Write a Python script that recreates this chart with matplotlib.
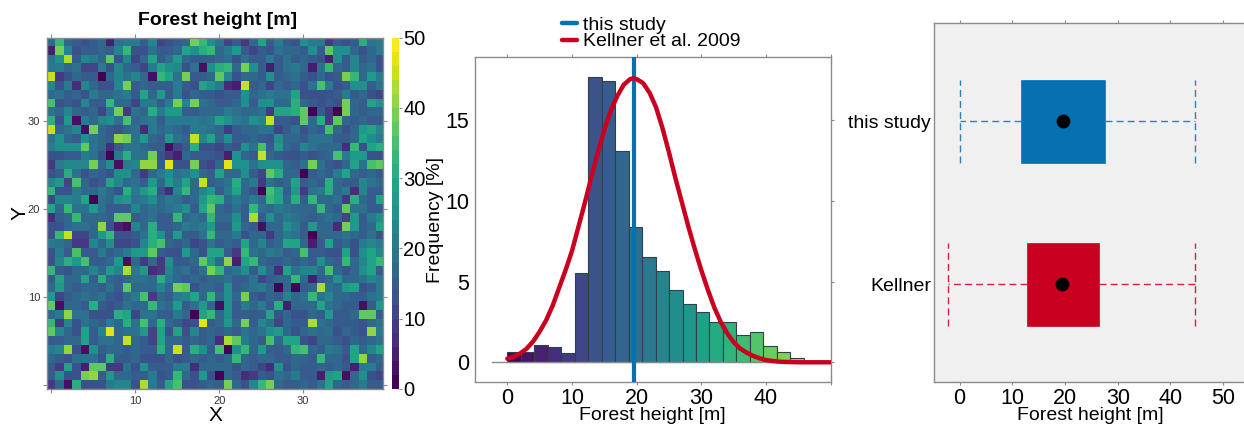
"""Forest height map, histogram and box comparison."""

import matplotlib
matplotlib.use("Agg")
import matplotlib.pyplot as plt
import numpy as np
from matplotlib.lines import Line2D

plt.rcParams["font.family"] = ["Liberation Sans", "DejaVu Sans"]

W, H = 1244, 425
BLUE = "#0571b0"
RED = "#ca0020"
GREY = "#8a8a8a"

# forest height per cell, top row first
height_map = [
    [17,33,17,14,13,14,17,5,19,21, 20,15,23,11,13,14,16,38,33,24, 18,11,14,8,17,28,15,20,14,13, 24,21,20,8,14,13,14,30,19,21],
    [5,38,22,13,14,14,17,14,22,32, 12,13,18,15,14,16,28,24,30,32, 17,20,26,15,10,14,13,18,17,16, 15,24,14,36,25,25,16,13,17,21],
    [18,24,42,14,23,20,17,36,13,22, 11,16,28,15,19,26,17,15,14,14, 17,18,13,19,15,14,20,14,18,15, 16,15,13,4,25,15,22,14,16,12],
    [20,20,16,19,11,11,20,12,22,16, 14,10,20,29,24,22,13,18,2,24, 30,32,16,38,25,14,5,14,18,20, 17,5,18,32,16,15,22,16,18,12],
    [44,9,12,16,14,15,1,16,22,18, 22,17,3,32,28,18,38,14,15,16, 36,22,12,17,16,14,25,14,16,18, 15,13,16,12,14,38,32,16,27,21],
    [22,13,20,6,22,16,12,13,22,38, 14,16,15,15,14,20,15,13,28,24, 20,6,4,44,14,16,11,16,15,16, 13,18,34,20,13,15,24,24,14,19],
    [16,18,14,16,13,20,17,17,18,20, 15,28,16,27,14,20,13,16,15,14, 13,14,14,25,17,18,20,19,18,28, 12,12,13,12,14,20,15,16,13,11],
    [34,13,14,13,22,15,14,33,17,16, 11,20,20,15,20,38,22,38,18,16, 15,14,16,25,15,24,24,17,17,30, 16,14,13,15,13,38,16,15,28,25],
    [19,16,22,17,15,17,11,20,38,9, 18,16,31,20,27,27,14,15,17,16, 17,20,19,17,16,18,8,28,28,30, 36,0,14,9,0,38,16,15,17,17],
    [30,13,27,3,20,16,23,24,18,35, 17,18,20,15,21,21,20,20,19,20, 28,25,20,19,25,22,44,14,15,13, 36,16,30,8,36,17,14,16,15,14],
    [45,17,18,22,3,38,16,15,13,16, 19,7,20,16,18,17,15,21,20,18, 16,8,14,17,16,19,18,11,15,18, 13,16,14,34,16,13,16,27,28,22],
    [19,24,16,14,25,19,16,14,40,38, 19,26,17,14,27,19,16,44,22,28, 16,25,15,14,17,15,12,24,16,17, 15,19,18,18,14,15,16,28,25,20],
    [20,24,24,24,36,19,17,6,15,19, 19,16,15,14,2,11,14,30,13,13, 11,14,13,24,18,35,15,27,17,14, 22,18,17,16,17,7,33,13,28,30],
    [13,12,14,15,20,19,13,1,21,30, 18,19,38,12,8,5,16,14,15,14, 13,4,25,16,14,44,16,14,13,12, 15,13,14,16,35,20,27,27,12,13],
    [8,20,22,22,22,38,16,25,3,20, 22,40,40,14,46,12,13,38,13,11, 16,46,25,25,19,25,25,25,16,14, 19,38,18,14,13,17,28,18,34,37],
    [13,14,30,18,12,16,14,12,25,24, 17,8,16,20,25,18,20,24,16,15, 28,17,16,25,15,11,36,30,17,16, 1,15,17,14,20,28,16,14,16,14],
    [22,27,11,35,16,13,14,28,22,17, 18,14,27,17,27,20,28,16,44,14, 16,18,30,16,20,8,18,15,16,28, 15,16,14,30,16,15,14,22,18,16],
    [32,12,13,20,17,16,20,17,12,30, 20,27,30,13,6,22,33,16,22,27, 15,20,28,16,13,1,34,28,15,27, 8,18,20,30,16,20,6,22,15,14],
    [11,22,22,20,28,0,18,16,25,27, 19,20,24,16,20,18,15,17,27,32, 30,17,20,17,20,16,33,28,16,30, 15,32,17,16,19,8,30,17,15,28],
    [28,16,33,19,19,26,19,14,15,14, 22,17,19,16,18,20,24,15,28,36, 16,15,19,14,32,19,16,20,19,16, 17,17,33,16,15,36,18,18,14,15],
    [6,14,16,33,17,16,17,14,37,37, 14,16,18,15,14,33,16,18,16,33, 17,16,25,14,42,14,25,16,20,19, 16,14,17,18,16,11,27,14,20,24],
    [12,12,16,19,18,17,40,13,4,2, 22,16,30,14,15,16,20,18,20,26, 14,15,27,16,15,3,17,17,24,20, 15,26,17,16,6,38,27,14,16,28],
    [13,32,45,11,11,16,27,33,13,13, 14,18,30,25,14,27,15,14,18,33, 17,16,20,13,16,17,9,17,20,18, 14,0,17,16,17,18,16,15,19,12],
    [20,18,17,9,9,22,16,25,11,11, 13,22,30,35,16,15,17,11,13,19, 15,16,14,28,17,22,15,16,28,28, 16,4,15,28,14,16,13,20,22,20],
    [13,20,14,34,15,14,20,14,17,20, 27,27,37,14,13,13,26,16,13,28, 28,14,8,33,19,16,20,18,15,16, 34,14,15,12,13,28,13,24,28,22],
    [13,22,30,27,34,14,15,16,27,2, 17,8,16,9,24,15,14,17,36,27, 17,40,5,28,33,16,15,14,16,15, 17,14,25,17,15,32,16,22,28,33],
    [32,14,13,16,17,22,16,27,22,42, 20,27,7,8,22,16,18,15,19,38, 33,17,19,25,14,25,17,7,28,18, 23,22,17,35,16,12,16,24,28,15],
    [14,28,16,17,28,15,30,16,15,16, 19,18,17,30,20,17,14,17,14,16, 17,18,15,14,19,11,14,17,16,32, 16,4,15,16,24,17,16,18,22,20],
    [16,27,17,15,17,16,14,18,14,36, 16,17,17,22,17,38,36,13,17,17, 15,25,14,16,18,20,17,0,16,1, 15,16,43,18,16,27,28,13,14,20],
    [27,11,15,17,18,16,19,14,13,16, 20,34,8,17,15,20,22,28,17,33, 16,25,17,38,14,13,16,15,22,16, 18,33,18,22,17,16,15,14,19,20],
    [36,3,17,16,15,30,14,13,14,18, 17,16,33,19,16,27,15,19,27,16, 2,25,14,20,16,20,14,30,5,17, 16,17,28,19,16,15,14,3,14,27],
    [17,20,40,18,18,13,13,12,30,28, 11,19,19,15,14,20,17,1,28,32, 16,24,15,14,14,15,28,13,16,13, 13,16,15,26,14,14,16,36,36,14],
    [33,8,22,12,18,16,15,20,17,30, 19,34,17,30,16,15,11,13,46,15, 16,27,17,38,15,22,18,11,16,14, 15,42,18,17,14,15,14,12,17,19],
    [37,22,16,13,28,14,22,46,16,18, 19,27,11,28,13,28,12,22,15,16, 15,16,15,18,17,18,25,26,16,13, 17,18,17,18,13,16,15,13,40,20],
    [14,14,16,17,28,14,19,19,17,44, 16,15,11,29,16,17,15,16,15,16, 6,42,36,20,16,15,34,16,28,28, 13,11,17,17,14,13,16,15,17,18],
    [20,22,40,13,2,25,14,17,16,15, 16,15,14,30,16,44,14,30,24,15, 35,0,25,33,17,27,15,14,17,32, 35,16,14,20,19,14,28,16,22,28],
    [16,15,12,19,19,19,13,30,14,15, 17,12,12,13,16,12,15,16,15,16, 15,16,33,16,15,16,17,14,15,16, 16,15,32,17,16,13,28,40,14,17],
    [14,9,28,13,5,36,36,8,8,18, 13,24,14,15,14,20,20,6,16,17, 17,17,13,17,15,11,6,25,13,17, 14,15,16,15,16,14,4,20,20,14],
    [14,24,13,13,38,40,14,27,17,16, 14,15,20,13,14,33,17,13,27,13, 1,16,15,6,8,14,13,18,16,20, 14,15,5,27,28,2,17,24,13,11],
    [9,16,2,30,13,13,13,20,22,22, 13,42,20,14,28,35,12,12,14,16, 15,38,16,12,22,32,38,16,14,15, 17,14,18,28,16,15,16,20,14,15],
]

hist_freq = [0.62, 0.66, 1.05, 0.97, 0.56, 5.51, 17.65, 17.44, 13.1, 8.36, 6.54,
             5.68, 4.48, 3.59, 3.1, 2.48, 2.48, 1.67, 1.86, 0.99, 0.62, 0.29]
bin_width = 2.084

kellner_x = [0, 1, 2, 3, 4, 5, 6, 7, 8, 9, 10, 11, 12, 13, 14, 15, 16, 17, 18, 19, 19.5, 20, 21, 22, 23, 24, 25,
             26, 27, 28, 29, 30, 31, 32, 33, 34, 35, 36, 37, 38, 39, 40, 41, 42, 43, 44, 45, 50]
kellner_y = [0.22, 0.35, 0.55, 0.85, 1.3, 1.9, 2.6, 3.5, 4.6, 5.7, 6.9, 8.4, 9.9, 11.5, 13.0, 14.4, 15.6, 16.5,
             17.2, 17.55, 17.6, 17.55, 17.3, 16.7, 15.8, 14.5, 13.0, 11.4, 9.9, 8.4, 7.0, 5.7, 4.5, 3.4, 2.5, 1.8,
             1.25, 0.85, 0.6, 0.4, 0.25, 0.14, 0.08, 0.04, 0.02, 0.01, 0, 0]
this_study_mean = 19.65

box_labels = ["Kellner", "this study"]
box_q1 = [12.75, 11.6]
box_q3 = [26.4, 27.6]
box_mean = [19.47, 19.66]
box_low = [-2.3, 0.0]
box_high = [44.7, 44.6]
box_colors = [RED, BLUE]


def px_axes(fig, left, top, right, bottom):
    """Add axes from pixel edges, measured from the top left."""
    return fig.add_axes([left / W, 1 - bottom / H, (right - left) / W, (bottom - top) / H])


def grey_frame(ax):
    for spine in ax.spines.values():
        spine.set_color(GREY)
        spine.set_linewidth(1.0)


fig = plt.figure(figsize=(W / 100, H / 100), dpi=100)

# map
ax1 = px_axes(fig, 47, 37.7, 383, 389)
im = ax1.imshow(np.array(height_map), cmap=plt.get_cmap("viridis", 25), vmin=0, vmax=50,
                extent=(-0.5, 39.5, -0.5, 39.5), origin="upper", aspect="auto", interpolation="nearest")
ax1.set_xticks([0, 10, 20, 30], ["", "10", "20", "30"])
ax1.set_yticks([0, 10, 20, 30], ["", "10", "20", "30"])
ax1.tick_params(top=True, right=True, length=3, width=0.8, color=GREY, labelsize=8, labelcolor="#333333", pad=2)
grey_frame(ax1)
ax1.set_xlabel("X", fontsize=15, labelpad=0)
ax1.set_ylabel("Y", fontsize=15)
ax1.yaxis.set_label_coords(-0.053, 0.5)
ax1.set_title("Forest height [m]", fontsize=14, fontweight="bold", pad=9.5, x=0.509)

cax = px_axes(fig, 391.5, 37.7, 399, 389)
cbar = fig.colorbar(im, cax=cax)
cbar.set_ticks([0, 10, 20, 30, 40, 50])
cbar.ax.tick_params(labelsize=14.5, length=2, width=0.7, color=GREY, pad=1)
cbar.outline.set_visible(False)

# histogram
ax2 = px_axes(fig, 474.7, 57.3, 830.7, 382.3)
edges = bin_width * np.arange(len(hist_freq))
bar_colors = plt.get_cmap("viridis")(np.arange(len(hist_freq)) / 25 + 0.01)
ax2.bar(edges, hist_freq, width=bin_width, align="edge", color=bar_colors, edgecolor="#30404a", linewidth=0.8)
ax2.plot([-2.3, 50], [0, 0], color=GREY, lw=1.0, zorder=1)
ax2.axvline(this_study_mean, color=BLUE, lw=3.0, zorder=3)
ax2.plot(kellner_x, kellner_y, color=RED, lw=3.2, zorder=4, solid_capstyle="round")
ax2.set_xlim(-5.04, 50)
ax2.set_ylim(-1.24, 18.9)
ax2.set_xticks([0, 10, 20, 30, 40, 50], ["0", "10", "20", "30", "40", ""])
ax2.set_yticks([0, 5, 10, 15])
ax2.tick_params(top=True, right=True, left=False, length=2, width=0.8, color=GREY, labelsize=15.5, pad=2)
grey_frame(ax2)
ax2.set_xlabel("Forest height [m]", fontsize=14, labelpad=-1)
ax2.set_ylabel("Frequency [%]", fontsize=14)
ax2.yaxis.set_label_coords(-0.085, 0.5)
ax2.legend(
    handles=[Line2D([], [], color=BLUE, lw=3.2, solid_capstyle="round"),
             Line2D([], [], color=RED, lw=3.2, solid_capstyle="round")],
    labels=["this study", "Kellner et al. 2009"],
    loc="lower left", bbox_to_anchor=((561.7 - 474.7) / 356, 1.021), frameon=False, fontsize=14,
    handlelength=0.8, handletextpad=0.28, labelspacing=-0.05, borderpad=0.0, borderaxespad=0.0,
)

# boxes
ax3 = px_axes(fig, 933.7, 23.3, 1246, 382.3)
ax3.set_facecolor("#f0f0f0")
stats = [
    {"med": box_mean[i], "q1": box_q1[i], "q3": box_q3[i], "whislo": box_low[i], "whishi": box_high[i], "fliers": []}
    for i in range(len(box_labels))
]
parts = ax3.bxp(stats, positions=[1, 2], orientation="horizontal", widths=0.51, capwidths=0.51, patch_artist=True,
                showfliers=False, manage_ticks=False)
for i, c in enumerate(box_colors):
    parts["boxes"][i].set(facecolor=c, edgecolor=c, linewidth=0.5)
    parts["medians"][i].set_visible(False)
    for w in parts["whiskers"][2 * i:2 * i + 2]:
        w.set(color=c, lw=1.0, alpha=0.85, linestyle=(0, (5, 3)))
    for k in parts["caps"][2 * i:2 * i + 2]:
        k.set(color=c, lw=1.0, alpha=0.85, linestyle=(0, (5, 3)))
ax3.scatter(box_mean, [1, 2], s=80, color="black", zorder=5)
ax3.set_xlim(-4.93, (1246 - 959.7) / 5.27)
ax3.set_ylim(0.4, 2.6)
ax3.set_xticks([0, 10, 20, 30, 40, 50])
ax3.set_yticks([1, 2], box_labels)
ax3.tick_params(axis="x", top=True, length=2, width=0.8, color=GREY, labelsize=15.5, pad=2)
ax3.tick_params(axis="y", length=0, labelsize=14, pad=2)
grey_frame(ax3)
ax3.set_xlabel("Forest height [m]", fontsize=14, labelpad=-1)

fig.savefig("out.png", dpi=100)
